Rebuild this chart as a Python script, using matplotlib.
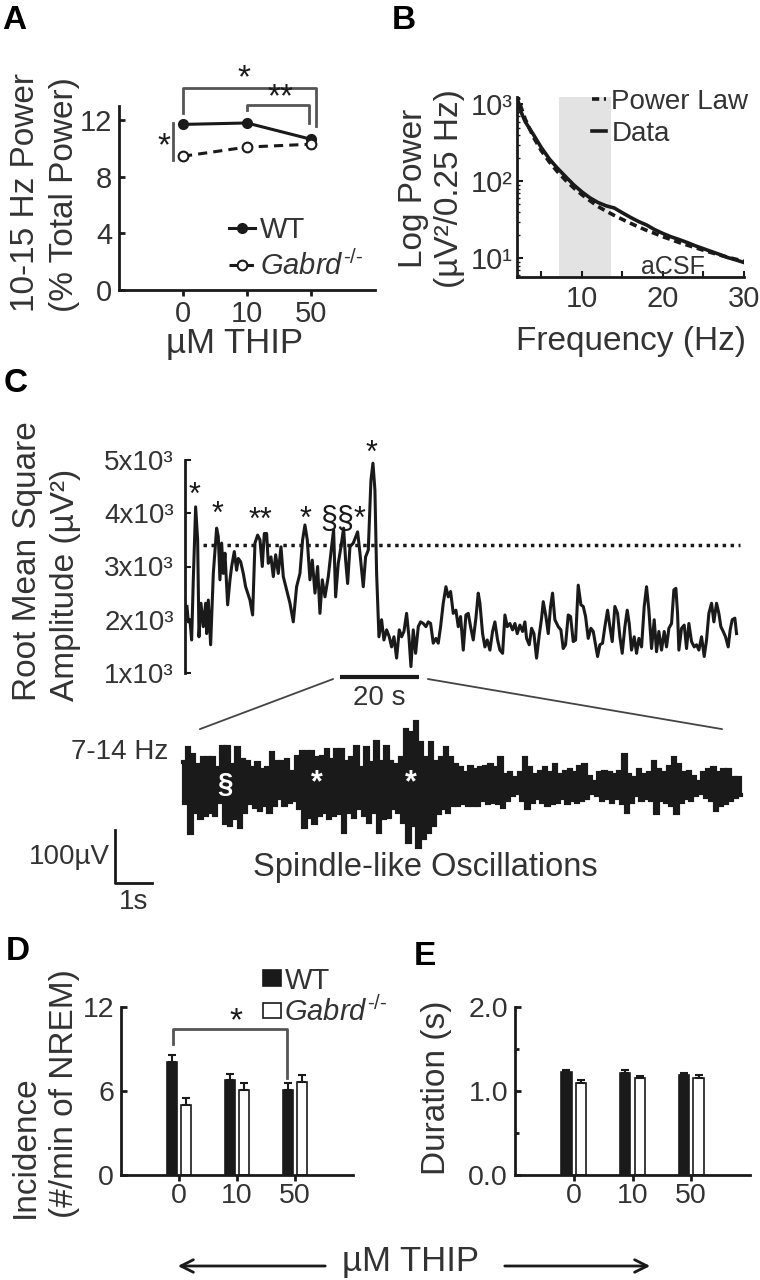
import matplotlib
matplotlib.use("Agg")
import matplotlib.pyplot as plt
import numpy as np
from matplotlib.patches import ConnectionPatch, FancyArrowPatch

W, H = 760, 1280
TXT = "#333333"
INK = "#1a1a1a"
GABRD = r"$\mathit{Gabrd}^{\text{-/-}}$"

# ---- A: 10-15 Hz power vs THIP dose ----
thip = ["0", "10", "50"]
a_wt = [11.7, 11.8, 10.65]
a_ko = [9.45, 10.1, 10.3]

# ---- B: power spectrum (aCSF) ----
b_freq = [2, 2.5, 3, 4, 5, 6, 7, 8, 9, 10, 11, 12, 13, 14, 15, 16, 17, 18, 19, 20,
          21, 22, 23, 24, 25, 26, 27, 28, 29, 30]
b_data = [1250, 800, 600, 410, 275, 195, 148, 115, 90, 73, 61, 53, 48, 45, 39, 34, 30,
          27, 23.5, 21, 19, 17.5, 16, 14.5, 13.3, 12.2, 11.2, 10.2, 9.5, 8.8]
b_fit = [1400, 920, 650, 380, 250, 178, 133, 103, 82, 67, 56, 47, 41, 36, 32, 28.5, 25.5,
         23, 21, 19, 17.5, 16, 14.8, 13.7, 12.7, 11.8, 11, 10.3, 9.7, 9.1]
b_band = (7.2, 13.6)

# ---- C: RMS amplitude trace (s, x10^3 uV^2) ----
rms_t = [0.0, 0.34, 0.76, 1.18, 1.60, 2.19, 2.70, 3.04, 3.54, 4.14, 4.73, 4.98, 5.40, 5.99,
         6.67, 7.51, 7.93, 8.35, 8.78, 9.20, 9.62, 10.30, 10.89, 11.31, 11.98, 12.57, 13.00,
         13.59, 14.26, 14.85, 15.95, 16.62, 17.22, 17.89, 18.48, 19.07, 19.58, 20.17, 20.59,
         21.27, 21.86, 22.45, 23.12, 23.80, 24.39, 25.23, 26.08, 26.92, 27.76, 28.61, 29.28,
         29.87, 30.46, 31.14, 31.73, 32.41, 33.08, 33.67, 34.26, 34.94, 35.78, 36.62, 37.13,
         37.64, 38.31, 38.99, 39.66, 40.17, 40.68, 41.27, 42.11, 43.21, 43.80, 44.64, 45.23,
         45.91, 46.58, 47.09, 47.59, 48.02, 48.61, 49.28, 49.87, 50.55, 51.22, 51.81, 52.41,
         53.08, 53.76, 54.35, 54.94, 55.61, 56.20, 56.71, 57.30, 57.89, 58.57, 59.16, 59.83,
         60.51, 61.10, 61.69, 62.36, 63.04, 63.63, 64.22, 64.89, 65.57, 66.16, 66.75, 67.43,
         68.10, 68.69, 69.28, 69.96, 70.63, 71.22, 71.81, 72.49, 73.16, 73.75, 74.18, 74.85,
         75.44, 76.03, 76.71, 77.38, 77.97, 78.65, 79.24, 79.92, 80.51, 81.10, 81.77, 82.45,
         83.04, 83.63, 84.30, 84.98, 85.57, 85.99, 86.67, 87.26, 87.85, 88.52, 89.20, 89.79,
         90.21, 90.89, 91.48, 92.07, 92.57, 93.16, 94.01, 94.68, 95.27, 95.86, 96.54, 97.13,
         97.81, 98.40, 99.07, 99.75, 100.34, 100.93, 101.60, 102.28, 102.87, 103.46, 103.97,
         104.56, 105.23, 105.82, 106.50, 107.09, 107.68, 108.35, 109.03, 109.62, 110.21,
         110.89, 111.48, 111.98, 112.57, 113.25, 113.84, 114.43, 115.11, 115.78, 116.37,
         116.96, 117.64, 118.31, 118.90, 119.49, 120.17, 120.84, 121.43, 122.03, 122.70,
         123.29, 123.80, 124.22, 124.56, 125.23, 125.91, 126.50, 127.09, 127.76, 128.44,
         129.03, 129.62, 130.30, 130.97, 131.56, 132.15, 132.83, 133.42, 134.09, 134.68,
         135.19, 135.78, 136.37, 137.05, 137.55, 138.06, 138.73, 139.16]
rms_amp = [2.25, 1.96, 2.00, 1.62, 2.75, 4.12, 3.50, 1.68, 2.31, 1.87, 2.31, 1.74, 2.37, 1.53,
           2.87, 3.72, 3.56, 2.75, 3.44, 2.87, 3.25, 2.28, 2.75, 3.00, 3.28, 2.93, 3.15,
           3.09, 2.87, 2.62, 2.37, 2.09, 3.44, 3.59, 3.50, 3.00, 3.62, 3.62, 3.06,
           3.18, 2.81, 3.22, 2.87, 3.37, 2.81, 2.56, 2.31, 1.96, 2.62, 2.87, 3.50,
           3.78, 3.50, 2.75, 3.12, 2.50, 3.00, 2.12, 2.75, 2.43, 2.81, 3.37, 3.69,
           2.43, 3.06, 3.37, 3.72, 3.12, 2.68, 3.37, 3.44, 3.65, 3.25, 2.62, 3.18,
           3.31, 4.62, 4.94, 4.44, 2.87, 1.68, 2.00, 1.62, 1.81, 1.68, 1.49, 1.68,
           1.28, 1.81, 1.68, 1.78, 2.12, 1.68, 1.12, 1.81, 1.37, 1.87, 1.96, 1.93,
           1.87, 1.96, 1.93, 1.56, 1.65, 1.56, 1.87, 2.31, 2.62, 2.43, 2.53, 2.12,
           2.18, 1.87, 2.06, 1.43, 2.09, 2.12, 1.87, 1.62, 2.03, 2.50, 2.31, 1.74,
           1.49, 1.62, 1.43, 1.78, 1.96, 1.62, 1.43, 1.37, 2.09, 1.87, 1.93, 1.81,
           1.93, 1.74, 1.90, 1.78, 1.96, 1.65, 1.53, 1.84, 1.74, 1.28, 1.71, 2.03,
           2.34, 2.06, 1.74, 2.25, 2.50, 2.00, 1.87, 1.81, 1.46, 1.53, 2.09, 2.06,
           1.59, 1.62, 2.65, 2.28, 2.25, 2.06, 1.65, 1.84, 1.78, 1.53, 1.31,
           1.53, 1.56, 1.87, 2.18, 1.87, 1.59, 2.25, 2.12, 1.68, 1.37,
           1.87, 2.18, 1.93, 1.43, 1.68, 1.37, 1.65, 1.49, 2.25, 2.62,
           2.18, 1.46, 2.00, 1.40, 1.78, 1.43, 1.78, 1.49, 1.84, 1.93,
           2.56, 2.59, 2.12, 1.43, 1.84, 1.90, 1.46, 1.93, 1.59, 1.49,
           1.53, 1.43, 1.68, 1.31, 1.62, 2.12, 2.31, 1.96, 2.31, 2.12,
           1.87, 1.78, 1.68, 1.49, 1.81, 2.00, 2.03, 1.74]
rms_thresh = 3.4
c_marks_t = [2.0, 7.8, 18.5, 29.9, 39.5, 46.8]
c_marks_v = [4.33, 3.96, 3.86, 3.87, 3.87, 5.12]
c_marks_s = ["*", "*", "**", "*", "§§*", "*"]

# ---- C inset: 7-14 Hz filtered trace, peak/trough per half cycle (uV) ----
spindle_up = [44, 70, 57, 38, 51, 51, 51, 32, 73, 73, 38, 70, 47, 44, 32, 41, 28, 32, 60, 44,
              44, 47, 25, 54, 63, 63, 63, 51, 54, 66, 47, 66, 66, 44, 51, 73, 32, 70, 41, 82,
              44, 73, 44, 38, 51, 104, 98, 120, 79, 51, 79, 44, 51, 70, 51, 38,
              32, 22, 35, 28, 32, 35, 38, 32, 51, 19, 22, 13, 22, 51, 32, 19, 25, 32, 22, 38,
              19, 25, 28, 22, 35, 38, 16, 6, 22, 25, 22, 19, 25, 57, 19, 13, 28, 19, 22, 44,
              28, 22, 35, 51, 38, 22, 25, 16, 6, 22, 28, 32, 22, 28, 28, 13, 13]
spindle_dn = [-35, -92, -51, -63, -57, -51, -57, -32, -73, -76, -63, -79, -51, -35, -41, -47,
              -38, -51, -38, -25, -38, -32, -28, -44, -79, -60, -73, -57, -51, -63, -57, -54,
              -89, -51, -60, -44, -57, -70, -51, -89, -63, -60, -44, -51, -70, -108, -76, -117,
              -101, -89, -76, -54, -44, -51, -38, -38,
              -35, -38, -38, -38, -28, -35, -32, -35, -41, -28, -19, -16, -28, -44, -32, -25,
              -32, -38, -35, -32, -25, -35, -28, -32, -28, -25, -16, -19, -28, -25, -32, -25,
              -35, -51, -32, -19, -28, -25, -28, -54, -28, -32, -38, -54, -32, -25, -28, -19,
              -16, -22, -28, -47, -38, -35, -28, -22, -19]
spindle_len = 15.2  # s

# ---- D / E: spindle incidence and duration ----
d_wt = [8.1, 6.8, 6.1]
d_wt_se = [0.5, 0.45, 0.5]
d_ko = [5.0, 6.1, 6.65]
d_ko_se = [0.5, 0.5, 0.5]
e_wt = [1.225, 1.22, 1.19]
e_wt_se = [0.025, 0.026, 0.02]
e_ko = [1.10, 1.155, 1.16]
e_ko_se = [0.03, 0.027, 0.03]


def px_axes(fig, left, top, right, bottom):
    """axes placed by pixel box of the 760x1280 canvas"""
    return fig.add_axes([left / W, 1 - bottom / H, (right - left) / W, (bottom - top) / H])


def clean(ax, keep=("left", "bottom")):
    for s in ("left", "right", "top", "bottom"):
        ax.spines[s].set_visible(s in keep)
        ax.spines[s].set_linewidth(2)
        ax.spines[s].set_color(INK)


def ylab(ax, x, y, text, align="center", size=24, spacing=1.35):
    ax.text(x, y, text, rotation=90, ha="right", va="center", multialignment=align,
            transform=ax.transAxes, fontsize=size, color=TXT, linespacing=spacing)


def panel_a(fig):
    ax = px_axes(fig, 119, 106, 375, 290)
    clean(ax)
    x = np.arange(len(thip))
    ax.plot(x, a_wt, "-o", color=INK, lw=2.2, ms=7, mfc=INK, clip_on=False, label="WT")
    ax.plot(x, a_ko, "--o", color=INK, lw=2.2, ms=7, mfc="white", mew=1.5, dashes=(3, 2),
            clip_on=False, label=GABRD)
    ax.set_xlim(-1, 3)
    ax.set_ylim(0, 13)
    ax.set_yticks([0, 4, 8, 12])
    ax.set_xticks(x, thip)
    ax.tick_params(axis="y", direction="in", length=4, width=2, pad=5, labelsize=21)
    ax.tick_params(axis="x", direction="out", length=4, width=2, pad=3, labelsize=21)

    br = "#555555"
    ax.plot([0, 0, 2.08, 2.08], [12.5, 14.3, 14.3, 11.6], color=br, lw=2, clip_on=False)
    ax.plot([1.0, 1.0, 1.97, 1.97], [12.7, 13.1, 13.1, 11.8], color=br, lw=2, clip_on=False)
    ax.plot([-0.16, -0.16], [9.2, 11.8], color=br, lw=2, clip_on=False)
    ax.text(0.95, 14.95, "*", ha="center", va="center", fontsize=24, color=INK)
    ax.text(1.52, 13.55, "**", ha="center", va="center", fontsize=24, color=INK)
    ax.text(-0.30, 10.1, "*", ha="center", va="center", fontsize=24, color=INK)

    ax.legend(loc="upper left", bbox_to_anchor=(0.43, 0.40), frameon=False, fontsize=21,
              handlelength=0.9, handletextpad=0.15, labelspacing=0.2, borderpad=0,
              borderaxespad=0, labelcolor=TXT)
    ylab(ax, -0.152, 0.53, "10-15 Hz Power\n(% Total Power)", align="left")
    ax.text(0.453, -0.29, "µM THIP", ha="center", va="center", transform=ax.transAxes,
            fontsize=25, color=TXT)


def panel_b(fig):
    ax = px_axes(fig, 517, 97, 744, 277)
    clean(ax)
    ax.set_yscale("log")
    ax.axvspan(b_band[0], b_band[1], color="#e3e3e3", lw=0, zorder=0)
    ax.plot(b_freq, b_fit, color=INK, lw=2.6, dashes=(2, 1.3), label="Power Law")
    ax.plot(b_freq, b_data, color=INK, lw=2.6, label="Data")
    ax.set_xlim(2, 30)
    ax.set_ylim(5.7, 1250)
    ax.set_xticks([5, 10, 15, 20, 25, 30], ["", "10", "", "20", "", "30"])
    ax.set_yticks([10, 100, 1000], ["10¹", "10²", "10³"])
    ax.tick_params(axis="both", which="major", direction="in", length=4, width=1.5,
                   labelsize=21)
    ax.tick_params(axis="y", which="major", pad=3)
    ax.tick_params(axis="x", which="major", pad=6)
    ax.tick_params(axis="y", which="minor", direction="in", length=2, width=1)
    ax.text(21.2, 7.6, "aCSF", ha="center", va="center", fontsize=18, color=TXT)
    ax.legend(loc="upper left", bbox_to_anchor=(0.33, 1.045), frameon=False, fontsize=20,
              handlelength=0.5, handletextpad=0.2, labelspacing=0.22, borderpad=0,
              borderaxespad=0, labelcolor=TXT)
    ylab(ax, -0.229, 0.494, "Log Power\n(µV²/0.25 Hz)", spacing=1.2)
    ax.text(0.5, -0.356, "Frequency (Hz)", ha="center", va="center",
            transform=ax.transAxes, fontsize=24, color=TXT)


def panel_c(fig):
    ax = px_axes(fig, 185, 438.7, 745, 673)
    clean(ax, keep=("left",))
    ax.plot(rms_t, rms_amp, color=INK, lw=2.2)
    ax.hlines(rms_thresh, 4, 140, color=INK, lw=2.5, linestyles=(0, (1, 1.3)))
    ax.set_xlim(-0.5, 141.3)
    ax.set_ylim(1, 5.4)
    ax.spines["left"].set_bounds(1, 5)
    ax.set_xticks([])
    ax.set_yticks([1, 2, 3, 4, 5], ["%dx10³" % v for v in [1, 2, 3, 4, 5]])
    ax.tick_params(axis="y", direction="in", length=4, width=1.5, pad=8, labelsize=20)
    for t, v, s in zip(c_marks_t, c_marks_v, c_marks_s):
        ax.text(t, v, s, ha="center", va="center", fontsize=22, color=INK)
    # 20 s scale bar
    ax.plot([38.7, 58.7], [0.92, 0.92], color=INK, lw=3, clip_on=False,
            solid_capstyle="butt")
    ax.text(48.7, 0.53, "20 s", ha="center", va="center", fontsize=20, color=TXT)
    ylab(ax, -0.186, 0.478, "Root Mean Square\nAmplitude (µV²)", align="left",
         spacing=1.3)

    # filtered trace below
    ax2 = px_axes(fig, 100, 715, 750, 895)
    ax2.axis("off")
    ax2.set_xlim(-2.26, 15.45)
    ax2.set_ylim(-208.7, 132.8)
    sig = np.column_stack([spindle_up, spindle_dn]).ravel()
    ts = np.linspace(0, spindle_len, len(sig))
    ax2.plot(ts, sig, color=INK, lw=3.0, drawstyle="steps-mid", solid_joinstyle="miter")
    ax2.text(1.14, 0, "§", color="white", fontsize=20, fontweight="bold",
             ha="center", va="center")
    ax2.text(3.64, 4, "*", color="white", fontsize=22, fontweight="bold",
             ha="center", va="center")
    ax2.text(6.21, 4, "*", color="white", fontsize=22, fontweight="bold",
             ha="center", va="center")
    ax2.text(-0.41, 63, "7-14 Hz", ha="right", va="center", fontsize=20, color=TXT)
    # 100 uV / 1 s scale bar
    ax2.plot([-1.85, -1.85, -0.85], [-85.4, -185.4, -185.4], color=INK, lw=2,
             clip_on=False)
    ax2.text(-2.0, -136, "100µV", ha="right", va="center", fontsize=20, color=TXT)
    ax2.text(-1.34, -222, "1s", ha="center", va="center", fontsize=20, color=TXT)
    ax2.text(6.6, -157, "Spindle-like Oscillations", ha="center", va="center",
             fontsize=23.5, color=TXT)

    for xa, xb in [(37.0, 0.46), (61.0, 14.69)]:
        con = ConnectionPatch(xyA=(xa, 0.887), coordsA=ax.transData,
                              xyB=(xb, 106), coordsB=ax2.transData,
                              color="#444444", lw=1.3)
        fig.add_artist(con)


def bars(ax, wt, wt_se, ko, ko_se):
    x = np.arange(len(thip))
    ax.bar(x - 0.125, wt, 0.18, color=INK, edgecolor=INK, lw=1.2, label="WT")
    ax.bar(x + 0.125, ko, 0.18, color="white", edgecolor=INK, lw=1.2, label=GABRD)
    ax.errorbar(x - 0.125, wt, yerr=[np.zeros(len(wt)), wt_se], fmt="none", ecolor=INK,
                elinewidth=1.5, capsize=3, capthick=1.5)
    ax.errorbar(x + 0.125, ko, yerr=[np.zeros(len(ko)), ko_se], fmt="none", ecolor=INK,
                elinewidth=1.5, capsize=3, capthick=1.5)
    ax.set_xlim(-1, 3)
    ax.set_xticks(x, thip)
    ax.tick_params(axis="x", direction="out", length=4, width=2, pad=2, labelsize=20.5)
    ax.tick_params(axis="y", direction="in", length=4, width=2, pad=5, labelsize=20.5)


def panel_d(fig):
    ax = px_axes(fig, 121, 1007, 353, 1175)
    clean(ax)
    bars(ax, d_wt, d_wt_se, d_ko, d_ko_se)
    ax.set_ylim(0, 12)
    ax.set_yticks([0, 6, 12])
    ax.plot([-0.10, -0.10, 1.87, 1.87], [9.35, 10.4, 10.4, 6.95], color="#555555", lw=2,
            clip_on=False)
    ax.text(0.98, 10.95, "*", ha="center", va="center", fontsize=24, color=INK)
    ax.legend(loc="upper left", bbox_to_anchor=(0.61, 1.24), frameon=False, fontsize=21,
              handlelength=0.65, handleheight=0.45, handletextpad=0.1, labelspacing=0.05,
              borderpad=0, borderaxespad=0, labelcolor=TXT)
    ylab(ax, -0.177, 0.485, "Incidence\n(#/min of NREM)", align="left")


def panel_e(fig):
    ax = px_axes(fig, 515, 1007, 750, 1175)
    clean(ax)
    bars(ax, e_wt, e_wt_se, e_ko, e_ko_se)
    ax.set_ylim(0, 2)
    ax.set_yticks([0, 1, 2], ["0.0", "1.0", "2.0"])
    ax.set_yticks([0.5, 1.5], minor=True)
    ax.tick_params(axis="y", which="minor", direction="in", length=3, width=2)
    ylab(ax, -0.268, 0.518, "Duration (s)")


def main():
    plt.rcParams["font.family"] = ["Liberation Sans", "DejaVu Sans"]
    plt.rcParams["mathtext.fontset"] = "custom"
    plt.rcParams["mathtext.rm"] = "Liberation Sans"
    plt.rcParams["mathtext.it"] = "Liberation Sans:italic"
    plt.rcParams["xtick.color"] = INK
    plt.rcParams["ytick.color"] = INK
    plt.rcParams["xtick.labelcolor"] = TXT
    plt.rcParams["ytick.labelcolor"] = TXT

    fig = plt.figure(figsize=(W / 100, H / 100), dpi=100)
    panel_a(fig)
    panel_b(fig)
    panel_c(fig)
    panel_d(fig)
    panel_e(fig)

    for lab, x, y in [("A", 2, 5), ("B", 392, 5), ("C", 4, 368), ("D", 6, 936),
                      ("E", 414, 941)]:
        fig.text(x / W, 1 - y / H, lab, fontsize=24, fontweight="bold", color="black",
                 ha="left", va="top")

    # shared x label for D and E
    yb = 1 - 1266 / H
    fig.text(410 / W, 1 - 1262 / H, "µM THIP", ha="center", va="center", fontsize=25,
             color=TXT)
    for x0, x1 in [(328, 175), (502, 653)]:
        fig.add_artist(FancyArrowPatch((x0 / W, yb), (x1 / W, yb),
                                       transform=fig.transFigure, color=INK, lw=2,
                                       arrowstyle="->,head_length=0.6,head_width=0.3",
                                       mutation_scale=15))

    fig.savefig("out.png", dpi=100)


if __name__ == "__main__":
    main()
